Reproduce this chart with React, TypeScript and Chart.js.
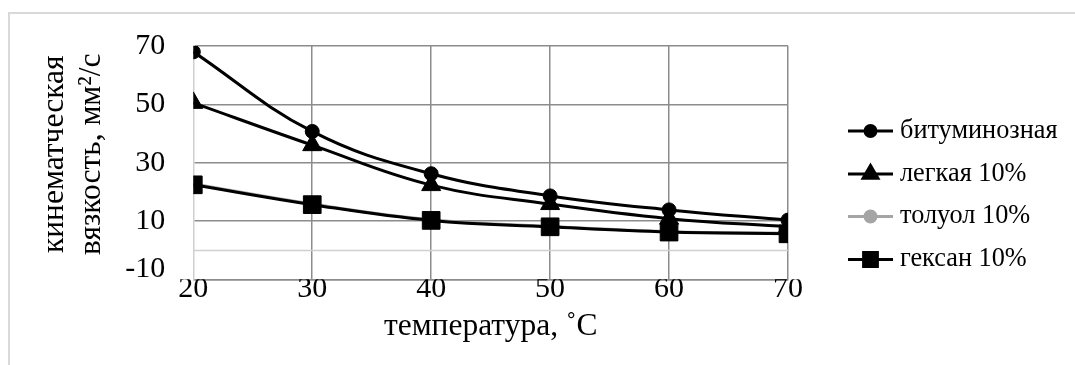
import React, { useEffect, useRef } from 'react';
import { Chart, registerables } from 'chart.js';
import { drawPoint } from 'chart.js/helpers';

Chart.register(...registerables);

const temperatures = [20, 30, 40, 50, 60, 70];
const bituminous = [68, 40.7, 26.2, 18.6, 13.8, 10.3];
const light10 = [50.5, 36, 22.3, 15.8, 10.8, 8.0];
const toluene10 = [22.7, 15.8, 10.4, 8.1, 6.3, 5.8];
const hexane10 = [22.4, 15.6, 10.2, 8.0, 6.2, 5.6];
const seriesNames = ['битуминозная', 'легкая 10%', 'толуол 10%', 'гексан 10%'];
const yTitle = ['кинематческая', 'вязкость, мм²/с'];
const xTitle = 'температура, ˚С';

const FONT = '"Liberation Serif", "Times New Roman", serif';

const toPoints = (vals: number[]) => vals.map((v, i) => ({ x: temperatures[i], y: v }));

const zeroLinePlugin = {
  id: 'zeroLine',
  beforeDatasetsDraw(chart: any) {
    const { ctx, chartArea, scales } = chart;
    const y = Math.round(scales.y.getPixelForValue(0)) + 0.5;
    ctx.save();
    ctx.strokeStyle = '#d0d0d0';
    ctx.lineWidth = 1.5;
    ctx.beginPath();
    ctx.moveTo(chartArea.left, y);
    ctx.lineTo(chartArea.right, y);
    ctx.stroke();
    ctx.restore();
  },
};

const yTitlePlugin = {
  id: 'yTitle',
  afterDraw(chart: any) {
    const { ctx } = chart;
    const xs = [55, 91.7];
    ctx.save();
    ctx.fillStyle = '#000';
    ctx.font = `31.5px ${FONT}`;
    ctx.textAlign = 'center';
    ctx.textBaseline = 'middle';
    yTitle.forEach((t, i) => {
      ctx.save();
      ctx.translate(xs[i], 154.3);
      ctx.rotate(-Math.PI / 2);
      ctx.fillText(t, 0, 0);
      ctx.restore();
    });
    ctx.restore();
  },
};

const sideLegendPlugin = {
  id: 'sideLegend',
  afterDraw(chart: any) {
    const { ctx } = chart;
    const rows = [131, 174, 216.5, 259.5];
    chart.data.datasets.forEach((ds: any, i: number) => {
      const y = rows[i];
      ctx.save();
      ctx.strokeStyle = ds.borderColor;
      ctx.lineWidth = 3;
      ctx.beginPath();
      ctx.moveTo(848, y);
      ctx.lineTo(893, y);
      ctx.stroke();
      ctx.fillStyle = ds.pointBackgroundColor;
      ctx.strokeStyle = ds.pointBorderColor;
      drawPoint(ctx, { pointStyle: ds.pointStyle, radius: ds.pointRadius * 0.78, rotation: 0, borderWidth: 1 }, 870.5, y);
      ctx.fillStyle = '#000';
      ctx.font = `26.3px ${FONT}`;
      ctx.textBaseline = 'middle';
      ctx.textAlign = 'left';
      ctx.fillText(ds.label, 900, y);
      ctx.restore();
    });
  },
};

export default function App() {
  const ref = useRef<HTMLCanvasElement>(null);
  useEffect(() => {
    const mk = (label: string, vals: number[], color: string, style: string, r: number, order: number) => ({
      label,
      data: toPoints(vals),
      borderColor: color,
      backgroundColor: color,
      pointBackgroundColor: color,
      pointBorderColor: color,
      pointBorderWidth: 1,
      pointStyle: style,
      pointRadius: r,
      borderWidth: 3,
      tension: 0.4,
      fill: false,
      order,
    });
    const chart = new Chart(ref.current!, {
      type: 'line',
      data: {
        datasets: [
          mk(seriesNames[0], bituminous, '#000000', 'circle', 7, 0),
          mk(seriesNames[1], light10, '#000000', 'triangle', 11, 0),
          mk(seriesNames[2], toluene10, '#a5a5a5', 'circle', 7, 1),
          mk(seriesNames[3], hexane10, '#000000', 'rect', 12.5, 0),
        ] as any,
      },
      options: {
        responsive: false,
        animation: false,
        devicePixelRatio: 1,
        layout: { padding: { left: 0, top: 43.3, right: 287, bottom: 0 } },
        plugins: { legend: { display: false }, tooltip: { enabled: false }, title: { display: false } },
        scales: {
          x: {
            type: 'linear',
            min: 20,
            max: 70,
            ticks: { stepSize: 10, padding: -8, color: '#000', font: { family: FONT, size: 30 } },
            grid: {
              color: (c: any) => (c.tick && c.tick.value === 20 ? 'rgba(0,0,0,0)' : '#8c8c8c'),
              lineWidth: 1.5,
              drawTicks: false,
            },
            border: { color: '#8c8c8c', width: 1.5 },
            title: {
              display: true,
              text: xTitle,
              color: '#000',
              font: { family: FONT, size: 31.5 },
              padding: { top: 0, bottom: 19.6 },
            },
            afterFit: (s: any) => { s.height = 85.7; },
          },
          y: {
            type: 'linear',
            min: -10,
            max: 70,
            ticks: {
              stepSize: 20,
              padding: 28,
              color: '#000',
              callback: (v: any) => (v === -10 ? [String(v), ''] : String(v)),
              font: (c: any) => ({
                family: FONT,
                size: 30,
                lineHeight: c.tick && c.tick.value === -10 ? 20 / 30 : 1.2,
              }),
            },
            grid: { color: '#8c8c8c', lineWidth: 1.5, drawTicks: false },
            border: { color: '#d0d0d0', width: 1.5 },
            title: { display: false },
            afterFit: (s: any) => { s.width = 193.3; },
          },
        },
      } as any,
      plugins: [zeroLinePlugin, yTitlePlugin, sideLegendPlugin],
    });
    return () => chart.destroy();
  }, []);
  return (
    <div style={{ position: 'fixed', left: 0, top: 0, width: 1075, height: 365, background: '#fff', overflow: 'hidden' }}>
      <div
        style={{
          position: 'absolute', left: 8, top: 12, right: -10, bottom: -10,
          borderTop: '2px solid #d9d9d9', borderLeft: '2px solid #d9d9d9',
        }}
      />
      <canvas ref={ref} width={1075} height={365} style={{ position: 'absolute', left: 0, top: 0, width: 1075, height: 365 }} />
    </div>
  );
}
